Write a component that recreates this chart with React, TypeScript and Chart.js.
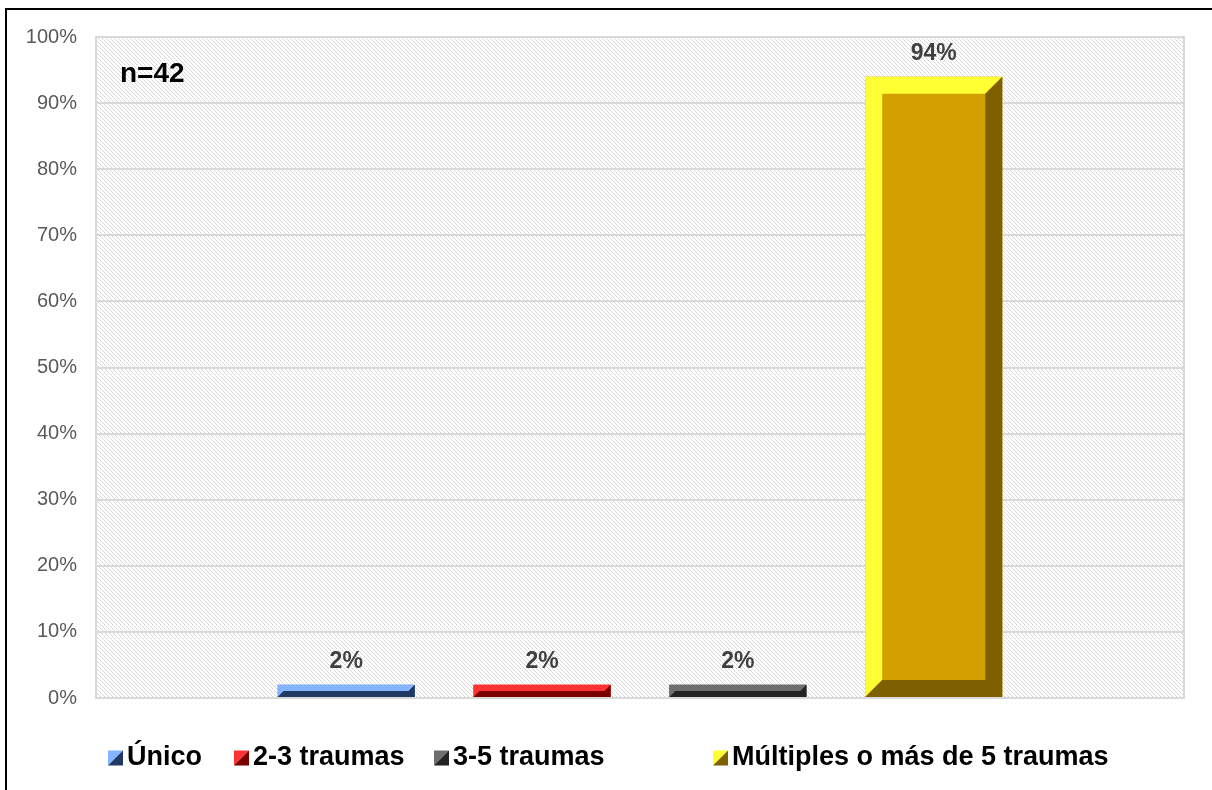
import React, { useEffect, useRef } from "react";
import { Chart, registerables } from "chart.js";

Chart.register(...registerables);

const categories = [""];
const seriesLabels = ["Único", "2-3 traumas", "3-5 traumas", "Múltiples o más de 5 traumas"];
const seriesValues = [2, 2, 2, 94];
const faceColors = ["#4472C4", "#E00000", "#404040", "#D4A000"];
const lightColors = ["#84B4FF", "#FF3333", "#6E6E6E", "#FFFF33"];
const darkColors = ["#1F3864", "#7A0000", "#232323", "#7F6000"];
const yTicks = [0, 10, 20, 30, 40, 50, 60, 70, 80, 90, 100];
const annotationText = "n=42";

const FONT = "'Liberation Sans', Arial, sans-serif";

function makeHatch(): CanvasPattern | string {
  const c = document.createElement("canvas");
  c.width = 8;
  c.height = 8;
  const g = c.getContext("2d");
  if (!g) return "#ffffff";
  g.fillStyle = "#ffffff";
  g.fillRect(0, 0, 8, 8);
  for (let y = 0; y < 8; y++) {
    for (let x = 0; x < 8; x++) {
      if (((x - y) % 4 + 4) % 4 === 0) {
        g.fillStyle = (x + y) % 4 === 0 ? "#d0d0d0" : "#e2e2e2";
        g.fillRect(x, y, 1, 1);
      }
    }
  }
  const p = g.createPattern(c, "repeat");
  return p || "#ffffff";
}

export default function App() {
  const ref = useRef<HTMLCanvasElement | null>(null);

  useEffect(() => {
    if (!ref.current) return;
    const hatch = makeHatch();

    const decor = {
      id: "decor",
      beforeDraw(chart: any) {
        const { ctx, chartArea: a } = chart;
        ctx.save();
        ctx.fillStyle = "#ffffff";
        ctx.fillRect(0, 0, chart.width, chart.height);
        ctx.fillStyle = hatch;
        ctx.fillRect(a.left, a.top, a.right - a.left, a.bottom - a.top);
        ctx.restore();
      },
      beforeDatasetsDraw(chart: any) {
        const { ctx, chartArea: a } = chart;
        ctx.save();
        ctx.strokeStyle = "#d9d9d9";
        ctx.lineWidth = 2;
        ctx.strokeRect(a.left, a.top, a.right - a.left, a.bottom - a.top);
        ctx.restore();
      },
      afterDatasetsDraw(chart: any) {
        const { ctx } = chart;
        chart.data.datasets.forEach((ds: any, i: number) => {
          const meta = chart.getDatasetMeta(i);
          meta.data.forEach((bar: any, j: number) => {
            const p = bar.getProps(["x", "y", "base", "width"], true);
            const x0 = p.x - p.width / 2;
            const x1 = p.x + p.width / 2;
            const y0 = Math.min(p.y, p.base);
            const y1 = Math.max(p.y, p.base);
            const h = y1 - y0;
            const b = Math.min(17, h / 2, p.width / 2);
            ctx.save();
            ctx.fillStyle = lightColors[i];
            ctx.beginPath();
            ctx.moveTo(x0, y0);
            ctx.lineTo(x1, y0);
            ctx.lineTo(x1 - b, y0 + b);
            ctx.lineTo(x0 + b, y0 + b);
            ctx.lineTo(x0 + b, y1 - b);
            ctx.lineTo(x0, y1);
            ctx.closePath();
            ctx.fill();
            ctx.fillStyle = darkColors[i];
            ctx.beginPath();
            ctx.moveTo(x1, y0);
            ctx.lineTo(x1, y1);
            ctx.lineTo(x0, y1);
            ctx.lineTo(x0 + b, y1 - b);
            ctx.lineTo(x1 - b, y1 - b);
            ctx.lineTo(x1 - b, y0 + b);
            ctx.closePath();
            ctx.fill();
            // value label
            ctx.fillStyle = "#404040";
            ctx.font = `bold 23px ${FONT}`;
            ctx.textAlign = "center";
            ctx.textBaseline = "middle";
            ctx.fillText(`${ds.data[j]}%`, p.x, y0 - 23);
            ctx.restore();
          });
        });
      },
      afterDraw(chart: any) {
        const { ctx, chartArea: a } = chart;
        ctx.save();
        // annotation
        ctx.fillStyle = "#000000";
        ctx.font = `bold 28px ${FONT}`;
        ctx.textAlign = "left";
        ctx.textBaseline = "middle";
        ctx.fillText(annotationText, a.left + 24, 74);
        // legend
        const iconX = [108, 234, 434, 713];
        const cy = 758;
        const s = 15;
        chart.data.datasets.forEach((ds: any, i: number) => {
          const x = iconX[i];
          const y = cy - s / 2;
          ctx.fillStyle = lightColors[i];
          ctx.beginPath();
          ctx.moveTo(x, y);
          ctx.lineTo(x + s, y);
          ctx.lineTo(x, y + s);
          ctx.closePath();
          ctx.fill();
          ctx.fillStyle = darkColors[i];
          ctx.beginPath();
          ctx.moveTo(x + s, y);
          ctx.lineTo(x + s, y + s);
          ctx.lineTo(x, y + s);
          ctx.closePath();
          ctx.fill();
          ctx.fillStyle = "#000000";
          ctx.font = `bold 27px ${FONT}`;
          ctx.textAlign = "left";
          ctx.textBaseline = "middle";
          ctx.fillText(ds.label, x + s + 4, cy);
        });
        // outer frame
        ctx.strokeStyle = "#000000";
        ctx.lineWidth = 2;
        ctx.beginPath();
        ctx.moveTo(6, chart.height + 2);
        ctx.lineTo(6, 9);
        ctx.lineTo(chart.width + 2, 9);
        ctx.stroke();
        ctx.restore();
      },
    };

    const chart = new Chart(ref.current, {
      type: "bar",
      data: {
        labels: categories,
        datasets: seriesLabels.map((label, i) => ({
          label,
          data: [seriesValues[i]],
          backgroundColor: faceColors[i],
          borderWidth: 0,
          categoryPercentage: 0.72,
          barPercentage: 0.7,
        })),
      },
      options: {
        responsive: false,
        animation: false,
        devicePixelRatio: 1,
        layout: { padding: { top: 37, right: 28, bottom: 92, left: 0 } },
        plugins: {
          legend: { display: false },
          tooltip: { enabled: false },
        },
        scales: {
          x: {
            display: false,
            grid: { display: false },
          },
          y: {
            min: 0,
            max: 100,
            afterFit(scale: any) {
              scale.width = 96;
            },
            afterBuildTicks(scale: any) {
              scale.ticks = yTicks.map((v) => ({ value: v }));
            },
            grid: {
              color: "#d9d9d9",
              lineWidth: 2,
              drawTicks: false,
            },
            border: { display: false },
            ticks: {
              padding: 19,
              color: "#595959",
              font: { family: FONT, size: 20 },
              callback: (v: any) => `${v}%`,
            },
          },
        },
      },
      plugins: [decor],
    });

    return () => chart.destroy();
  }, []);

  return (
    <div style={{ position: "absolute", left: 0, top: 0, width: 1212, height: 790 }}>
      <canvas ref={ref} width={1212} height={790} />
    </div>
  );
}
